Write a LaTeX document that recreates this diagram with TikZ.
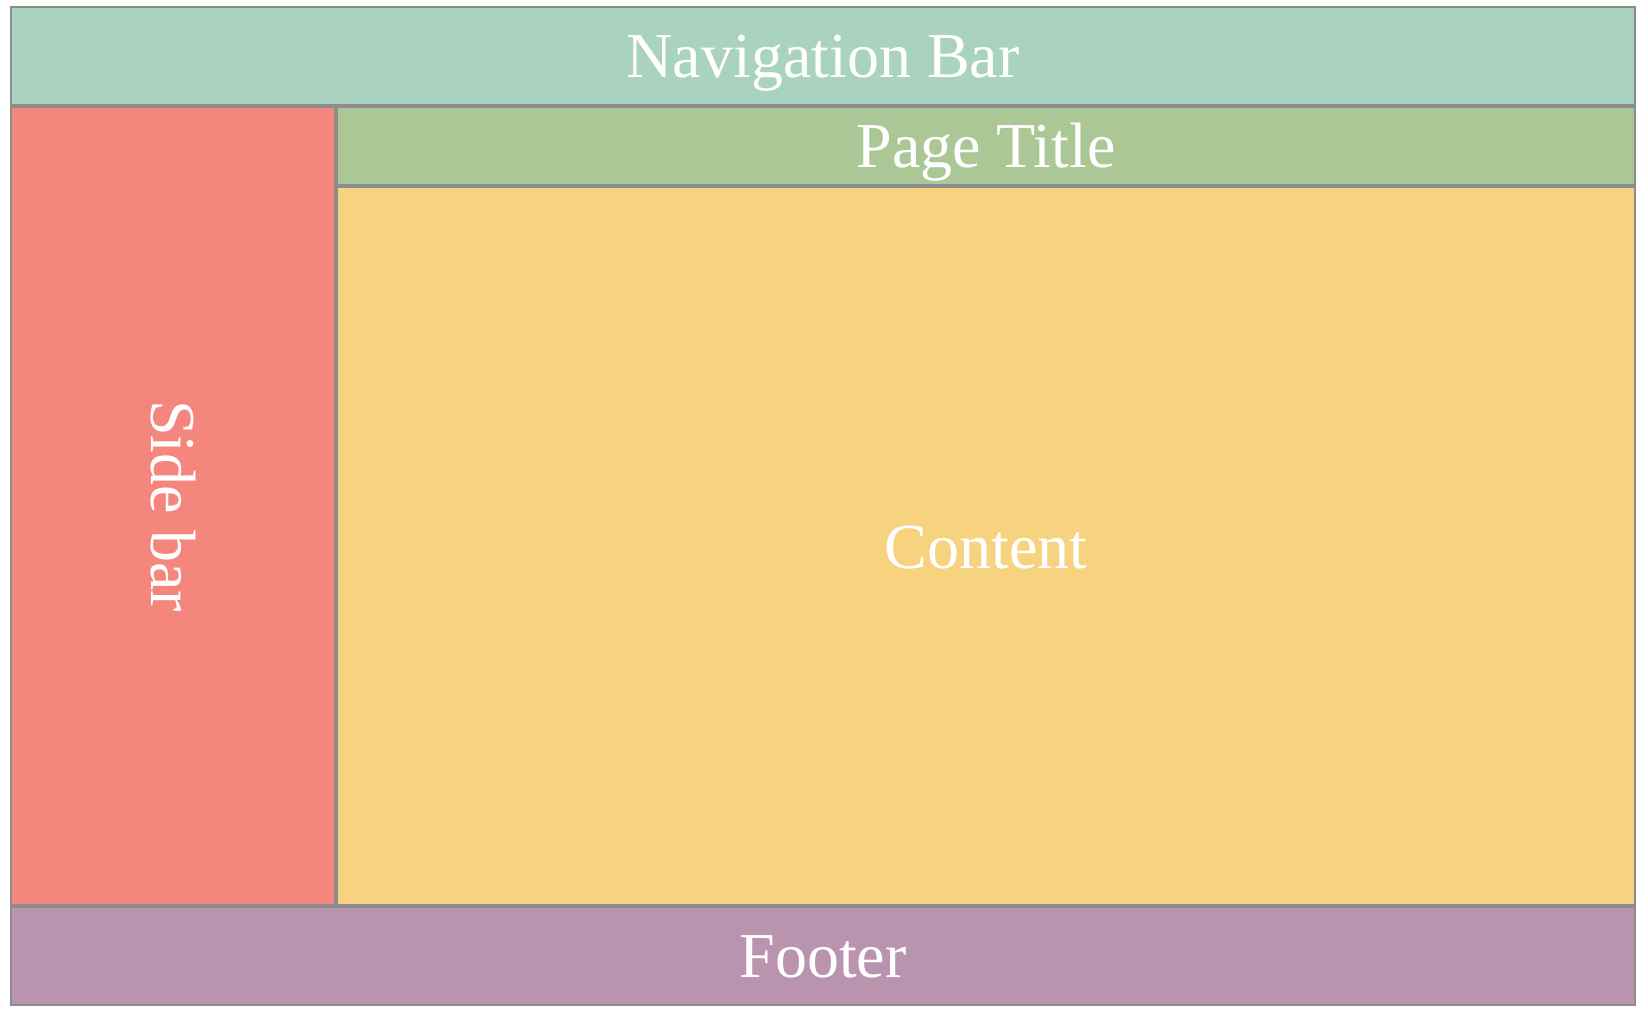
\documentclass[tikz,border=0pt]{standalone}
\usepackage{fontspec}
\setmainfont{Liberation Serif}
\definecolor{navfill}{HTML}{A9D2BF}
\definecolor{sidefill}{HTML}{F4867D}
\definecolor{titlefill}{HTML}{ABC796}
\definecolor{contentfill}{HTML}{F7D37F}
\definecolor{footfill}{HTML}{BA93AE}
\definecolor{edge}{HTML}{8C8C8C}
\begin{document}
\begin{tikzpicture}[x=0.5pt,y=-0.5pt,
  region/.style={draw=edge, line width=1pt, rectangle, inner sep=0pt, outer sep=0pt,
    text=white, font=\fontsize{32}{38}\selectfont,
    text height=22pt, text depth=0pt}]
\useasboundingbox (0,0) rectangle (1648,1016);
\fill[white] (0,0) rectangle (1648,1016);
% page layout regions
\node[region, fill=navfill, minimum width=812pt, minimum height=49pt] (nav) at (823,56) {Navigation Bar};
\node[region, fill=sidefill, rotate=-90, minimum width=399pt, minimum height=162pt] (side) at (173,506) {Side bar};
\node[region, fill=titlefill, minimum width=649pt, minimum height=39pt] (title) at (986,146) {Page Title};
\node[region, fill=contentfill, minimum width=649pt, minimum height=359pt] (content) at (986,546) {Content};
\node[region, fill=footfill, minimum width=812pt, minimum height=49pt, text height=21pt] (footer) at (823,956) {Footer};
\end{tikzpicture}
\end{document}
